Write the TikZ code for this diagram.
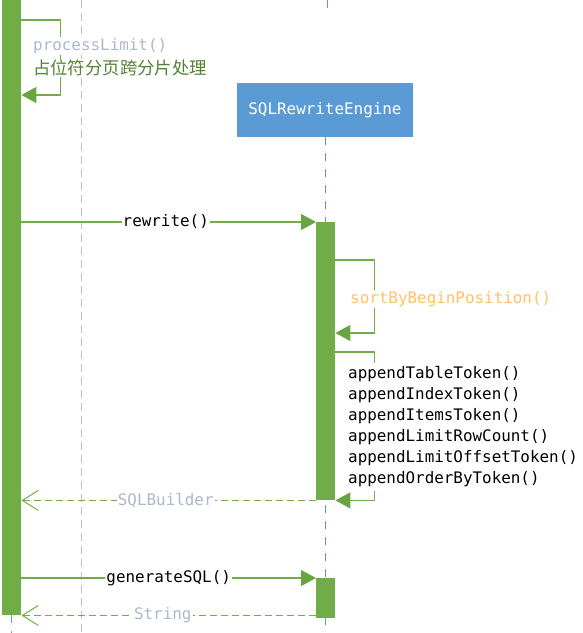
\documentclass[tikz,border=0pt]{standalone}
\usepackage{fontspec}
\setmonofont{DejaVu Sans Mono}
\newfontfamily\cjk{Noto Sans CJK SC}
\usetikzlibrary{arrows.meta}
\definecolor{bargreen}{HTML}{70AD47}
\definecolor{headgreen}{HTML}{68A43F}
\definecolor{txtgreen}{HTML}{548235}
\definecolor{lifeblue}{HTML}{5B9BD5}
\definecolor{retgray}{HTML}{ADB9CA}
\definecolor{sortorange}{HTML}{FFC266}
\definecolor{midgray}{HTML}{BFBFBF}
\newcommand\codefont{\ttfamily\fontsize{15.9}{21}\selectfont}
\tikzset{
  bar/.style={fill=bargreen,minimum width=19pt,inner sep=0pt,anchor=north west},
  lifeline/.style={lifeblue,line width=1pt,dash pattern=on 8pt off 8pt},
  call/.style={bargreen,line width=1.2pt,-{Triangle[length=15pt,width=16pt,color=headgreen]}},
  reply/.style={bargreen,line width=1.2pt,dash pattern=on 7pt off 4pt,-{Straight Barb[length=16pt,width=20pt,line width=1pt]}},
  lbl/.style={fill=white,text=black,inner sep=1pt,font=\codefont},
}
\begin{document}
\begin{tikzpicture}[x=1pt,y=-1pt,line join=round]
  \useasboundingbox (0,0) rectangle (583,633);
  % lifelines
  \draw[midgray,line width=1pt,dash pattern=on 8pt off 5pt] (81,0) -- (81,633);
  \node[fill=lifeblue,text=white,minimum width=176pt,minimum height=54pt,font=\codefont] (engine) at (325,110) {SQLRewriteEngine};
  \draw[lifeline] (327,0) -- (327,9);
  \draw[lifeline] (engine.south) -- (325,633);
  \draw[lifeline] (11.5,615) -- (11.5,633);
  % activation bars
  \node[bar,minimum height=615pt] (client) at (2,0) {};
  \node[bar,minimum height=278pt] (rw) at (316,222) {};
  \node[bar,minimum height=40pt] (gen) at (316,578) {};
  % self calls
  \draw[call] ([yshift=-20pt]client.north east) -- ++(39,0) |- ([yshift=-95pt]client.north east);
  \node[lbl,anchor=west,text=retgray] (limit) at (32,46) {processLimit()};
  \node[lbl,anchor=west,text=txtgreen,font=\cjk\fontsize{17.4}{20}\selectfont] (limitcn) at (32,68) {占位符分页跨分片处理};
  \draw[call] ([yshift=-38pt]rw.north east) -- ++(39,0) |- ([yshift=-111pt]rw.north east);
  \node[lbl,anchor=west,text=sortorange] (sort) at (349,299) {sortByBeginPosition()};
  \draw[call] ([yshift=-130pt]rw.north east) -- ++(39,0) |- (rw.south east);
  \node[lbl,anchor=west,align=left,inner ysep=4pt] (append) at (347,427)
    {appendTableToken()\\appendIndexToken()\\appendItemsToken()\\appendLimitRowCount()\\appendLimitOffsetToken()\\appendOrderByToken()};
  % messages
  \draw[call] (client.east |- rw.north) -- node[lbl,pos=.49] {rewrite()} (rw.north west);
  \draw[reply] (rw.south west) -- node[lbl,pos=.51,text=retgray] {SQLBuilder} (client.east |- rw.south);
  \draw[call] (client.east |- gen.north) -- node[lbl,pos=.5] {generateSQL()} (gen.north west);
  \draw[reply] (gen.west |- client.south) -- node[lbl,pos=.52,text=retgray] {String} (client.south east);
\end{tikzpicture}
\end{document}
